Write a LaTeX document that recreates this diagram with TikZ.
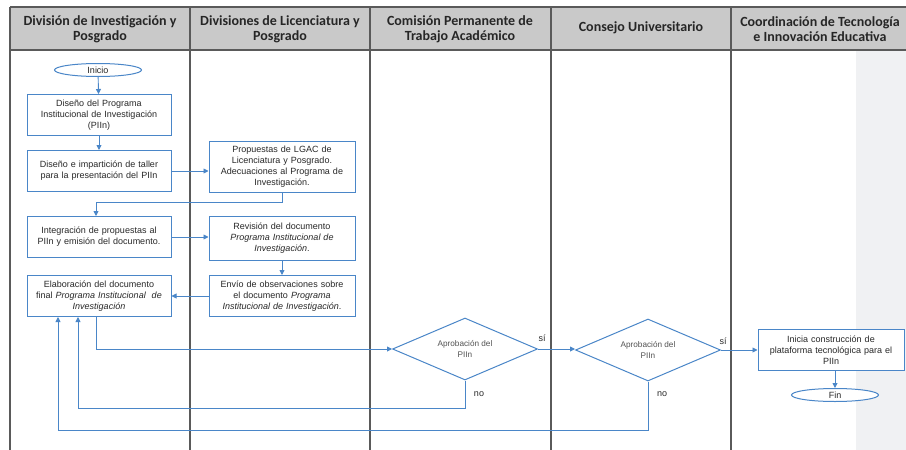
\documentclass[tikz,border=0pt]{standalone}
\usepackage{fontspec}
\setmainfont{Liberation Sans}
\newfontfamily\headfont{Carlito}
\usetikzlibrary{shapes.geometric,arrows.meta}
\definecolor{flow}{RGB}{74,134,200}
\definecolor{headgray}{RGB}{201,201,201}
\definecolor{rule}{RGB}{90,90,90}
\definecolor{side}{RGB}{240,241,243}
\definecolor{txt}{RGB}{40,40,40}

\begin{document}
\begin{tikzpicture}[x=1pt,y=-1pt,
    box/.style={draw=flow,line width=1pt,fill=white,minimum width=144pt,minimum height=41pt,text width=142pt,align=center,inner sep=1pt,font=\fontsize{9}{11}\selectfont,text=txt},
    term/.style={ellipse,draw=flow,line width=1pt,fill=white,minimum width=87pt,minimum height=13pt,inner sep=0pt,font=\fontsize{9}{10}\selectfont,text=txt},
    decide/.style={diamond,aspect=2.3,draw=flow,line width=1pt,fill=white,minimum width=145pt,minimum height=62pt,inner sep=0pt,align=center,font=\fontsize{8.2}{11}\selectfont,text=txt!80},
    arr/.style={draw=flow,line width=0.9pt,-{Triangle[length=5pt,width=5pt]}},
    lane/.style={font=\headfont\bfseries\fontsize{14}{15}\selectfont,align=center,text=black!85},
    tag/.style={font=\fontsize{9}{10}\selectfont,text=txt}]
    \useasboundingbox (0,0) rectangle (906,450);
    \clip (0,0) rectangle (906,450);

    \fill[headgray] (10,7) rectangle (912,50);
    \fill[side] (856,50) rectangle (912,452);
    \draw[rule,line width=1.5pt] (10,7) -- (912,7);
    \draw[rule,line width=1.5pt] (10,50) -- (912,50);
    \foreach \x in {10,190,370,551,731}
        \draw[rule,line width=1.1pt] (\x,7) -- (\x,452);

    \node[lane] (h1) at (100,29) {División de Investigación y\\Posgrado};
    \node[lane] (h2) at (280,29) {Divisiones de Licenciatura y\\Posgrado};
    \node[lane] (h3) at (460,29) {Comisión Permanente de\\Trabajo Académico};
    \node[lane] (h4) at (641,28) {Consejo Universitario};
    \node[lane] (h5) at (820,29) {Coordinación de Tecnología\\e Innovación Educativa};

    \node[term] (ini) at (98,70) {Inicio};
    \node[box] (b1) at (99,115) {Diseño del Programa\\Institucional de Investigación\\(PIIn)};
    \node[box] (b2) at (99,171) {Diseño e impartición de taller\\para la presentación del PIIn};
    \node[box,minimum width=146pt,minimum height=51pt] (b3) at (282,167) {Propuestas de LGAC de\\Licenciatura y Posgrado.\\Adecuaciones al Programa de\\Investigación.};
    \node[box] (b4) at (99,237) {Integración de propuestas al\\PIIn y emisión del documento.};
    \node[box,minimum width=146pt,minimum height=44pt] (b5) at (282,238) {Revisión del documento\\\textit{Programa Institucional de}\\\textit{Investigación}.};
    \node[box,minimum width=146pt] (b6) at (282,296) {Envío de observaciones sobre\\el documento \textit{Programa}\\\textit{Institucional de Investigación}.};
    \node[box] (b7) at (99,296) {Elaboración del documento\\final \textit{Programa Institucional\ \ de}\\\textit{Investigación}};
    \node[decide] (d1) at (465,349) {Aprobación del\\PIIn};
    \node[decide] (d2) at (648,350) {Aprobación del\\PIIn};
    \node[box,minimum width=146pt] (b8) at (831,350) {Inicia construcción de\\plataforma tecnológica para el\\PIIn};
    \node[term] (fin) at (835,395) {Fin};

    \node[tag] (s1) at (542,338) {sí};
    \node[tag] (s2) at (723,341) {sí};
    \node[tag] (n1) at (479,394) {no};
    \node[tag] (n2) at (662,394) {no};

    \draw[arr] (ini) -- (b1);
    \draw[arr] (b1) -- (b2);
    \draw[arr] (b2.east) -- (b2.east -| b3.west);
    \draw[arr] (b3.south) -- ++(0,9) -| ([xshift=-3pt]b4.north);
    \draw[arr] (b4.east) -- (b4.east -| b5.west);
    \draw[arr] (b5) -- (b6);
    \draw[arr] (b6) -- (b7);
    \draw[arr] ([xshift=-3pt]b7.south) |- (d1.west);
    \draw[arr] (d1.east) -- (d1.east -| d2.west);
    \draw[arr] (d2) -- (b8);
    \draw[arr] (b8.south -| fin.north) -- (fin);
    \draw[arr] (d1.south) -- ++(0,28) -| ([xshift=-21pt]b7.south);
    \draw[arr] (d2.south) -- ++(0,49) -| ([xshift=-41pt]b7.south);
\end{tikzpicture}
\end{document}
